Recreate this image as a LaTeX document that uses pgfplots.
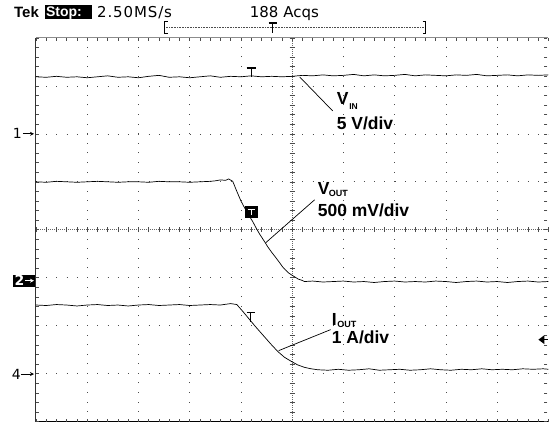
\documentclass[border=0pt]{standalone}
\usepackage{pgfplots}
\pgfplotsset{compat=1.18}
\usepackage{fontspec}
\setmainfont{Liberation Sans}
\newfontfamily\tekfont{DejaVu Sans}
\newfontfamily\tekwide[LetterSpace=6]{DejaVu Sans}
\usetikzlibrary{arrows.meta}
\begin{document}
\begin{tikzpicture}
\begin{scope}[x=1pt,y=1pt]
\path[use as bounding box] (0,0) rectangle (549,424);
% ---- graticule ----
\foreach \k in {1,2,3,4,6,7,8,9}{
  \draw[black!70, line width=0.7pt, dash pattern=on 0.7pt off 8.9pt] ({36+51.3*\k},2) -- ({36+51.3*\k},386);
}
\foreach \j in {1,2,3,5,6,7}{
  \draw[black!70, line width=0.7pt, dash pattern=on 0.7pt off 9.56pt] (36,{2+48*\j}) -- (549,{2+48*\j});
}
% centre lines
\draw[black!60, line width=0.5pt, dash pattern=on 0.6pt off 1.4pt] (36,194) -- (549,194);
\draw[black!60, line width=0.5pt, dash pattern=on 0.6pt off 1.4pt] (292.5,2) -- (292.5,386);
\foreach \i in {0,...,50}{ \draw[black!70, line width=0.5pt] ({36+10.26*\i},191.5) -- ++(0,5); }
\foreach \i in {0,...,40}{ \draw[black!70, line width=0.5pt] (290,{2+9.6*\i}) -- ++(5,0); }
% frame
\draw[black!45, line width=1pt] (36,386) -- (549,386);
\draw[black, line width=1pt] (36,2) -- (549,2);
\draw[black!80, line width=1pt] (36,2) -- (36,386);
\foreach \i in {0,...,50}{
  \draw[black!70, line width=0.5pt] ({36+10.26*\i},386) -- ++(0,-3);
  \draw[black!70, line width=0.5pt] ({36+10.26*\i},2) -- ++(0,3);
}
\foreach \i in {0,...,40}{
  \draw[black!70, line width=0.5pt] (36,{2+9.6*\i}) -- ++(3,0);
  \draw[black!70, line width=0.5pt] (548,{2+9.6*\i}) -- ++(-3,0);
}
\end{scope}
% ---- traces ----
\begin{axis}[at={(36pt,2pt)}, anchor=south west, scale only axis, width=513pt, height=384pt,
  xmin=0, xmax=10, ymin=0, ymax=8, hide axis, clip=false]
\addplot[black, line width=0.7pt] coordinates {
(0,7.19) (0.2,7.18) (0.4,7.20) (0.6,7.18) (0.8,7.19) (1.0,7.17) (1.2,7.19) (1.4,7.21) (1.6,7.18) (1.8,7.19)
(2.0,7.17) (2.2,7.20) (2.4,7.22) (2.6,7.18) (2.8,7.19) (3.0,7.17) (3.2,7.19) (3.4,7.21) (3.6,7.18) (3.8,7.20)
(4.0,7.19) (4.2,7.21) (4.4,7.19) (4.6,7.20) (4.8,7.19) (5.0,7.20) (5.2,7.22) (5.4,7.21) (5.6,7.23) (5.8,7.21)
(6.0,7.22) (6.2,7.24) (6.4,7.21) (6.6,7.23) (6.8,7.21) (7.0,7.22) (7.2,7.24) (7.4,7.21) (7.6,7.23) (7.8,7.22)
(8.0,7.21) (8.2,7.23) (8.4,7.22) (8.6,7.24) (8.8,7.21) (9.0,7.22) (9.2,7.23) (9.4,7.21) (9.6,7.23) (9.8,7.22) (10,7.23)};
\addplot[black, line width=0.7pt] coordinates {
(0,5.00) (0.2,4.99) (0.4,5.01) (0.6,5.00) (0.8,4.99) (1.0,5.00) (1.2,5.01) (1.4,5.00) (1.6,4.99) (1.8,5.00)
(2.0,5.00) (2.2,4.99) (2.4,5.01) (2.6,5.00) (2.8,5.00) (3.0,4.99) (3.2,5.00) (3.4,5.01) (3.5,5.02) (3.6,5.04)
(3.7,5.03) (3.76,5.06) (3.84,5.01) (3.92,4.80) (4.0,4.60) (4.07,4.46) (4.15,4.31) (4.23,4.17) (4.30,4.03) (4.37,3.90)
(4.45,3.77) (4.52,3.65) (4.60,3.53) (4.68,3.42) (4.75,3.32) (4.81,3.23) (4.87,3.16) (4.93,3.10) (5.0,3.05) (5.06,3.01)
(5.12,2.97) (5.18,2.95) (5.24,2.92) (5.4,2.93) (5.6,2.91) (5.8,2.92) (6.0,2.93) (6.2,2.91) (6.4,2.92) (6.6,2.90)
(6.8,2.92) (7.0,2.93) (7.2,2.91) (7.4,2.92) (7.6,2.91) (7.8,2.93) (8.0,2.92) (8.2,2.90) (8.4,2.92) (8.6,2.93)
(8.8,2.91) (9.0,2.92) (9.2,2.90) (9.4,2.92) (9.6,2.93) (9.8,2.91) (10,2.92)};
\addplot[black, line width=0.7pt] coordinates {
(0,2.43) (0.2,2.42) (0.4,2.44) (0.6,2.43) (0.8,2.41) (1.0,2.43) (1.2,2.44) (1.4,2.42) (1.6,2.43) (1.8,2.41)
(2.0,2.43) (2.2,2.44) (2.4,2.42) (2.6,2.43) (2.8,2.44) (3.0,2.42) (3.2,2.43) (3.4,2.44) (3.6,2.43) (3.8,2.46)
(3.92,2.44) (4.05,2.28) (4.17,2.125) (4.30,1.96) (4.44,1.79) (4.58,1.62) (4.72,1.46) (4.85,1.34) (4.99,1.25) (5.11,1.18)
(5.24,1.13) (5.37,1.10) (5.50,1.08) (5.7,1.07) (5.9,1.09) (6.1,1.07) (6.3,1.08) (6.5,1.10) (6.7,1.07) (6.9,1.08)
(7.1,1.09) (7.3,1.07) (7.5,1.08) (7.7,1.10) (7.9,1.08) (8.1,1.07) (8.3,1.09) (8.5,1.08) (8.7,1.10) (8.9,1.08)
(9.1,1.09) (9.3,1.08) (9.5,1.10) (9.7,1.09) (9.9,1.10) (10,1.09)};
\end{axis}
\begin{scope}[x=1pt,y=1pt]
% ---- trigger markers ----
\draw[black, line width=1.3pt] (247,356) -- (256,356);
\draw[black, line width=1.3pt] (251.5,356) -- (251.5,347);
\fill[black] (245,206) rectangle (258,218);
\draw[white, line width=1.2pt] (248,214.5) -- (255,214.5) (251.5,214.5) -- (251.5,208.5);
\draw[black, line width=1.3pt] (247,111) -- (255,111);
\draw[black, line width=1.3pt] (251,111) -- (251,102);
% right trigger level arrow
\fill[black] (539,84) -- (545,88.5) -- (545,79.5) -- cycle;
\draw[black, line width=1.2pt] (544,84) -- (549,84);
% ---- channel markers ----
\node[anchor=base east, inner sep=0, font=\tekfont\fontsize{14}{16}\selectfont] at (22,285) {1};
\draw[black, line width=0.8pt, -{Stealth[length=4pt,width=4pt]}] (23,290) -- (34,290);
\fill[black] (13,137) rectangle (35,149);
\node[anchor=base east, inner sep=0, text=white, font=\tekfont\bfseries\fontsize{14}{16}\selectfont] at (24.5,138) {2};
\draw[white, line width=0.8pt, -{Stealth[length=4pt,width=4pt]}] (25,143) -- (34,143);
\node[anchor=base east, inner sep=0, font=\tekfont\fontsize{14}{16}\selectfont] at (21,44.5) {4};
\draw[black, line width=0.8pt, -{Stealth[length=4pt,width=4pt]}] (21,49.5) -- (34,49.5);
% ---- header ----
\node[anchor=base west, inner sep=0, font=\bfseries\fontsize{15}{17}\selectfont] at (14,406) {Tek};
\fill[black] (45,405) rectangle (92,419);
\node[anchor=base west, inner sep=0, text=white, font=\bfseries\fontsize{14}{16}\selectfont] at (46,407) {Stop:};
\node[anchor=base west, inner sep=0, font=\tekwide\fontsize{15}{17}\selectfont] at (97,406) {2.50MS/s};
\node[anchor=base west, inner sep=0, font=\tekfont\fontsize{15}{17}\selectfont] at (250,406) {188 Acqs};
\draw[black, line width=1pt] (168,402) -- (165,402) -- (165,390) -- (168,390);
\draw[black, line width=1pt] (423,402) -- (426,402) -- (426,390) -- (423,390);
\draw[black!70, line width=0.6pt, dash pattern=on 0.6pt off 1pt] (166,397) -- (425,397);
\draw[black, line width=1.3pt] (269,401) -- (277,401) (273,401) -- (273,391);
% ---- annotations ----
\draw[black, line width=0.7pt] (300,347) -- (333,313);
\node[anchor=base west, inner sep=0, font=\bfseries\fontsize{17.5}{20}\selectfont] at (337,319) {V};
\node[anchor=base west, inner sep=0, font=\bfseries\fontsize{8.5}{10}\selectfont] at (349.5,314) {IN};
\node[anchor=base west, inner sep=0, font=\bfseries\fontsize{17.5}{20}\selectfont] at (337,294) {5 V/div};
\draw[black, line width=0.7pt] (315,224) -- (266,181);
\node[anchor=base west, inner sep=0, font=\bfseries\fontsize{17.5}{20}\selectfont] at (318,229) {V};
\node[anchor=base west, inner sep=0, font=\bfseries\fontsize{9}{11}\selectfont] at (329,227.5) {OUT};
\node[anchor=base west, inner sep=0, font=\bfseries\fontsize{17.5}{20}\selectfont] at (318,207) {500 mV/div};
\draw[black, line width=0.7pt] (331,94) -- (279,73);
\node[anchor=base west, inner sep=0, font=\bfseries\fontsize{17.5}{20}\selectfont] at (332,98) {I};
\node[anchor=base west, inner sep=0, font=\bfseries\fontsize{9}{11}\selectfont] at (337.5,96.5) {OUT};
\node[anchor=base west, inner sep=0, font=\bfseries\fontsize{17.5}{20}\selectfont] at (332,80) {1 A/div};
\end{scope}
\end{tikzpicture}
\end{document}
